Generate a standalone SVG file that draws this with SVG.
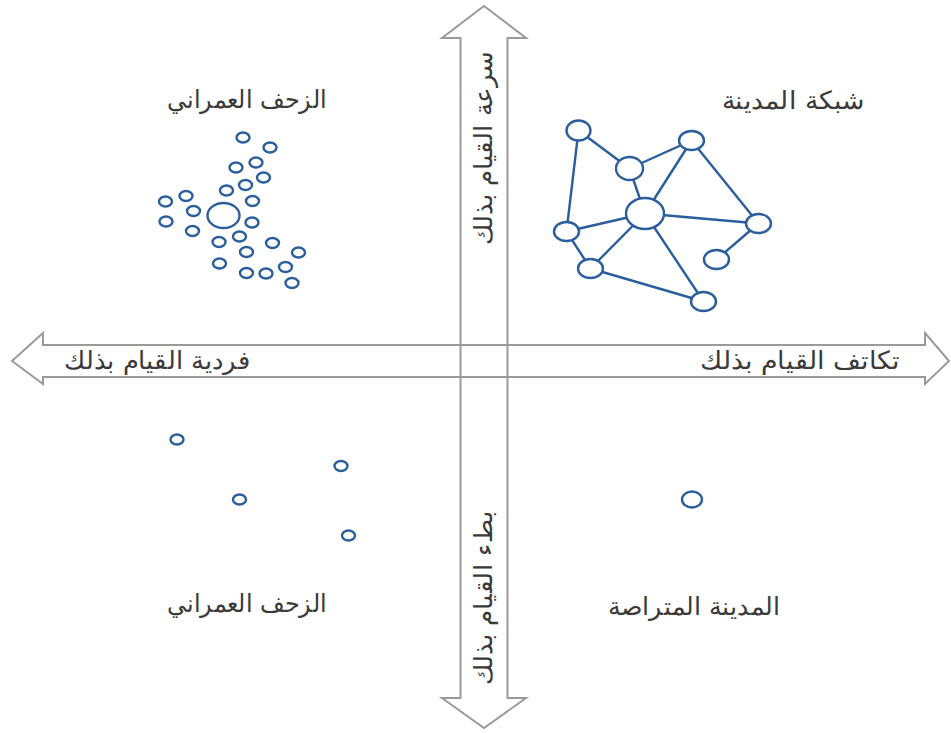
<svg xmlns="http://www.w3.org/2000/svg" width="951" height="733" viewBox="0 0 951 733">
  <style>
    .axis { fill: none; stroke: #9a9a9a; stroke-width: 2; stroke-linejoin: miter; }
    .lbl { font-family: "DejaVu Sans", "Noto Sans", sans-serif; font-size: 25px; fill: #3a3a3a; text-anchor: middle; font-weight: 300; }
    .dot { fill: #ffffff; stroke: #2b5e9c; stroke-width: 2.4; }
    .edge { stroke: #2b5e9c; stroke-width: 2.4; fill: none; }
  </style>

  <!-- axes: two outlined double arrows crossing -->
  <g id="axis-vertical">
    <polygon class="axis" points="484,6 526,38 507.5,38 507.5,698 526,698 484,728 442,698 460.5,698 460.5,38 442,38"/>
    <text class="lbl" transform="translate(492,148) rotate(-90)" textLength="194" lengthAdjust="spacingAndGlyphs">سرعة القيام بذلك</text>
    <text class="lbl" transform="translate(492,598) rotate(-90)" textLength="174" lengthAdjust="spacingAndGlyphs">بطء القيام بذلك</text>
  </g>
  <g id="axis-horizontal">
    <polygon class="axis" points="12,361 43,333 43,345 925,345 925,333 949,361 925,384 925,377 43,377 43,384"/>
    <text class="lbl" x="157" y="369" textLength="186" lengthAdjust="spacingAndGlyphs">فردية القيام بذلك</text>
    <text class="lbl" x="800" y="369" textLength="200" lengthAdjust="spacingAndGlyphs">تكاتف القيام بذلك</text>
  </g>

  <!-- quadrant titles -->
  <g id="label-sprawl-top"><text class="lbl" x="247" y="108" textLength="160" lengthAdjust="spacingAndGlyphs">الزحف العمراني</text></g>
  <g id="label-network"><text class="lbl" x="793" y="109" textLength="143" lengthAdjust="spacingAndGlyphs">شبكة المدينة</text></g>
  <g id="label-sprawl-bottom"><text class="lbl" x="247" y="612" textLength="160" lengthAdjust="spacingAndGlyphs">الزحف العمراني</text></g>
  <g id="label-compact"><text class="lbl" x="694" y="615" textLength="172" lengthAdjust="spacingAndGlyphs">المدينة المتراصة</text></g>

  <!-- sprawl cluster -->
  <g id="cluster-sprawl">
    <ellipse class="dot" cx="243" cy="137.5" rx="6.5" ry="5"/>
    <ellipse class="dot" cx="270" cy="147.5" rx="6.5" ry="5"/>
    <ellipse class="dot" cx="256" cy="162.5" rx="6.5" ry="5"/>
    <ellipse class="dot" cx="236" cy="167.5" rx="6.5" ry="5"/>
    <ellipse class="dot" cx="263.5" cy="177.5" rx="6.5" ry="5"/>
    <ellipse class="dot" cx="245.5" cy="185" rx="6.5" ry="5"/>
    <ellipse class="dot" cx="226.5" cy="190.5" rx="6.5" ry="5"/>
    <ellipse class="dot" cx="186" cy="196" rx="6.5" ry="5"/>
    <ellipse class="dot" cx="165.5" cy="201.5" rx="6.5" ry="5"/>
    <ellipse class="dot" cx="252.5" cy="201" rx="6.5" ry="5"/>
    <ellipse class="dot" cx="193.5" cy="211" rx="6.5" ry="5"/>
    <ellipse class="dot" cx="223.5" cy="215.5" rx="16" ry="12.5"/>
    <ellipse class="dot" cx="166" cy="221.5" rx="6.5" ry="5"/>
    <ellipse class="dot" cx="252" cy="222.5" rx="6.5" ry="5"/>
    <ellipse class="dot" cx="192.5" cy="231" rx="6.5" ry="5"/>
    <ellipse class="dot" cx="239.5" cy="236.5" rx="6.5" ry="5"/>
    <ellipse class="dot" cx="219" cy="242" rx="6.5" ry="5"/>
    <ellipse class="dot" cx="272.5" cy="243" rx="6.5" ry="5"/>
    <ellipse class="dot" cx="246.5" cy="252" rx="6.5" ry="5"/>
    <ellipse class="dot" cx="298.5" cy="252.5" rx="6.5" ry="5"/>
    <ellipse class="dot" cx="219.5" cy="263.5" rx="6.5" ry="5"/>
    <ellipse class="dot" cx="285.5" cy="267" rx="6.5" ry="5"/>
    <ellipse class="dot" cx="246.5" cy="273" rx="6.5" ry="5"/>
    <ellipse class="dot" cx="266" cy="273.5" rx="6.5" ry="5"/>
    <ellipse class="dot" cx="292" cy="283" rx="6.5" ry="5"/>
  </g>

  <!-- scattered points -->
  <g id="scatter-sprawl">
    <ellipse class="dot" cx="177" cy="439.5" rx="6.5" ry="5"/>
    <ellipse class="dot" cx="341" cy="466" rx="6.5" ry="5"/>
    <ellipse class="dot" cx="239.5" cy="499.5" rx="6.5" ry="5"/>
    <ellipse class="dot" cx="348.5" cy="535.5" rx="6.5" ry="5"/>
  </g>

  <!-- compact city point -->
  <g id="compact-city">
    <ellipse class="dot" cx="692" cy="499.5" rx="10" ry="8"/>
  </g>

  <!-- network links -->
  <g id="connectors">
    <line class="edge" x1="578.5" y1="130.5" x2="629.5" y2="168.5"/>
    <line class="edge" x1="578.5" y1="130.5" x2="566.5" y2="231.5"/>
    <line class="edge" x1="629.5" y1="168.5" x2="691.5" y2="140.5"/>
    <line class="edge" x1="629.5" y1="168.5" x2="645" y2="213.5"/>
    <line class="edge" x1="691.5" y1="140.5" x2="645" y2="213.5"/>
    <line class="edge" x1="691.5" y1="140.5" x2="758.5" y2="223.5"/>
    <line class="edge" x1="645" y1="213.5" x2="758.5" y2="223.5"/>
    <line class="edge" x1="645" y1="213.5" x2="566.5" y2="231.5"/>
    <line class="edge" x1="645" y1="213.5" x2="590.5" y2="268.5"/>
    <line class="edge" x1="645" y1="213.5" x2="703.5" y2="301.5"/>
    <line class="edge" x1="566.5" y1="231.5" x2="590.5" y2="268.5"/>
    <line class="edge" x1="590.5" y1="268.5" x2="703.5" y2="301.5"/>
    <line class="edge" x1="758.5" y1="223.5" x2="716.5" y2="259.5"/>
  </g>

  <!-- network nodes -->
  <g id="node-a"><ellipse class="dot" cx="578.5" cy="130.5" rx="12" ry="10"/></g>
  <g id="node-b"><ellipse class="dot" cx="691.5" cy="140.5" rx="12.5" ry="9.5"/></g>
  <g id="node-c"><ellipse class="dot" cx="629.5" cy="168.5" rx="13.5" ry="11.5"/></g>
  <g id="node-d"><ellipse class="dot" cx="645" cy="213.5" rx="19" ry="15.5"/></g>
  <g id="node-e"><ellipse class="dot" cx="758.5" cy="223.5" rx="12.5" ry="9.5"/></g>
  <g id="node-f"><ellipse class="dot" cx="566.5" cy="231.5" rx="12.5" ry="9.5"/></g>
  <g id="node-g"><ellipse class="dot" cx="716.5" cy="259.5" rx="12.5" ry="9.5"/></g>
  <g id="node-h"><ellipse class="dot" cx="590.5" cy="268.5" rx="12.5" ry="9.5"/></g>
  <g id="node-i"><ellipse class="dot" cx="703.5" cy="301.5" rx="12.5" ry="9.5"/></g>
</svg>
